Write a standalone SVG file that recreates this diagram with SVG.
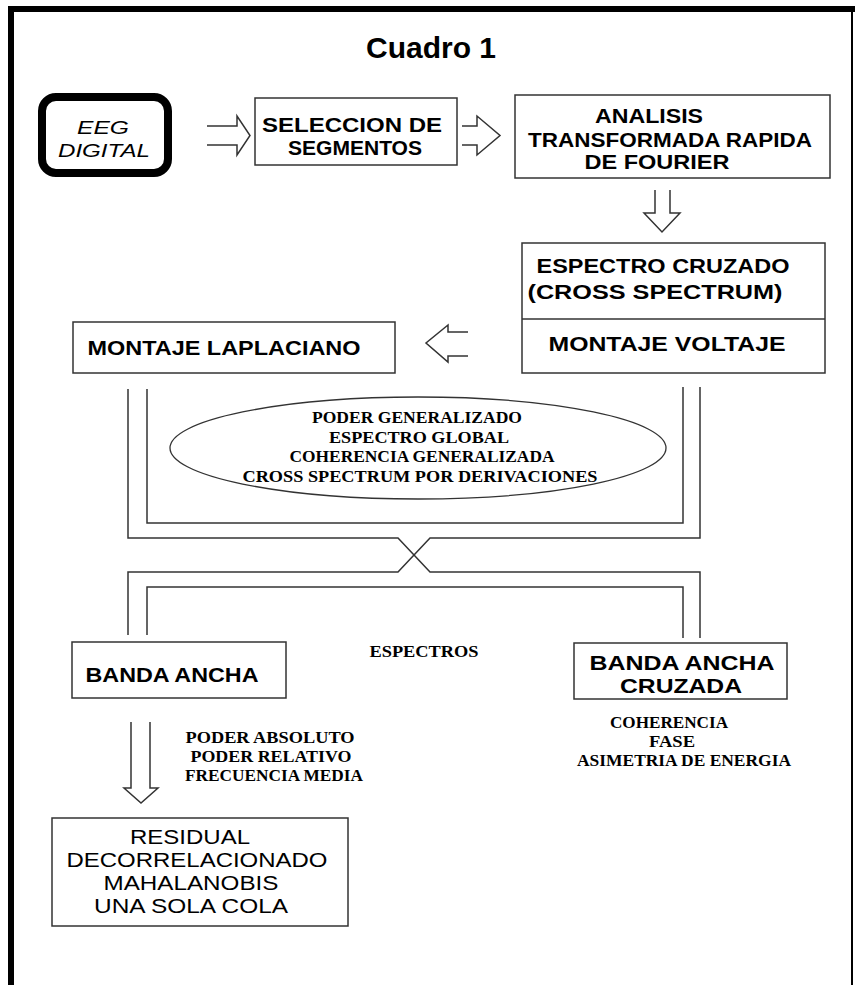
<svg xmlns="http://www.w3.org/2000/svg" width="855" height="985" viewBox="0 0 855 985">
<style>
.box{fill:#fff;stroke:#333;stroke-width:1.5}
.ln{fill:none;stroke:#333;stroke-width:1.5}
.sans{font-family:"Liberation Sans",Arial,sans-serif;font-weight:bold;font-size:20px;fill:#000;text-anchor:middle}
.reg{font-family:"Liberation Sans",Arial,sans-serif;font-size:20px;fill:#000;text-anchor:middle}
.ser{font-family:"Liberation Serif","Times New Roman",serif;font-weight:bold;font-size:17px;fill:#000;text-anchor:middle}
.it{font-family:"Liberation Sans",Arial,sans-serif;font-style:italic;font-size:19px;fill:#000;text-anchor:middle}
</style>
<rect width="855" height="985" fill="#fff"/>
<g id="frame">
<rect x="8" y="6" width="6" height="979" fill="#000"/>
<rect x="8" y="6" width="847" height="6" fill="#000"/>
<rect x="851" y="6" width="2" height="979" fill="#000"/>
</g>
<g id="title"><text x="431" y="58" style="font-family:'Liberation Sans',Arial,sans-serif;font-weight:bold;font-size:30px;text-anchor:middle">Cuadro 1</text></g>
<g id="eeg">
<rect x="42" y="97" width="126" height="76" rx="14" fill="#fff" stroke="#000" stroke-width="8"/>
<text class="it" x="103" y="134" textLength="52" lengthAdjust="spacingAndGlyphs">EEG</text>
<text class="it" x="104" y="157" textLength="92" lengthAdjust="spacingAndGlyphs">DIGITAL</text>
</g>
<g id="seleccion">
<rect class="box" x="255" y="98" width="202" height="67"/>
<text class="sans" x="352" y="132" textLength="180" lengthAdjust="spacingAndGlyphs">SELECCION DE</text>
<text class="sans" x="355" y="155" textLength="134" lengthAdjust="spacingAndGlyphs">SEGMENTOS</text>
</g>
<g id="analisis">
<rect class="box" x="515" y="95" width="315" height="83"/>
<text class="sans" x="649" y="123" textLength="108" lengthAdjust="spacingAndGlyphs">ANALISIS</text>
<text class="sans" x="670" y="147" textLength="284" lengthAdjust="spacingAndGlyphs">TRANSFORMADA RAPIDA</text>
<text class="sans" x="657" y="169" textLength="145" lengthAdjust="spacingAndGlyphs">DE FOURIER</text>
</g>
<g id="espectro">
<rect class="box" x="522" y="243" width="303" height="130"/>
<line class="ln" x1="522" y1="319" x2="825" y2="319"/>
<text class="sans" x="663" y="273" textLength="253" lengthAdjust="spacingAndGlyphs">ESPECTRO CRUZADO</text>
<text class="sans" x="655" y="299" textLength="255" lengthAdjust="spacingAndGlyphs">(CROSS SPECTRUM)</text>
<text class="sans" x="667" y="351" textLength="237" lengthAdjust="spacingAndGlyphs">MONTAJE VOLTAJE</text>
</g>
<g id="laplaciano">
<rect class="box" x="73" y="322" width="322" height="51"/>
<text class="sans" x="224" y="355" textLength="273" lengthAdjust="spacingAndGlyphs">MONTAJE LAPLACIANO</text>
</g>
<g id="medidas">
<ellipse cx="418" cy="448" rx="248" ry="51" fill="#fff" stroke="#333" stroke-width="1.3"/>
<text class="ser" x="417" y="423" textLength="210" lengthAdjust="spacingAndGlyphs">PODER GENERALIZADO</text>
<text class="ser" x="419" y="443" textLength="180" lengthAdjust="spacingAndGlyphs">ESPECTRO GLOBAL</text>
<text class="ser" x="422" y="462" textLength="265" lengthAdjust="spacingAndGlyphs">COHERENCIA GENERALIZADA</text>
<text class="ser" x="420" y="482" textLength="355" lengthAdjust="spacingAndGlyphs">CROSS SPECTRUM POR DERIVACIONES</text>
</g>
<g id="espectros"><text class="ser" x="424" y="657" textLength="109" lengthAdjust="spacingAndGlyphs">ESPECTROS</text></g>
<g id="banda-ancha">
<rect class="box" x="72" y="642" width="214" height="56"/>
<text class="sans" x="172" y="682" textLength="173" lengthAdjust="spacingAndGlyphs">BANDA ANCHA</text>
</g>
<g id="banda-cruzada">
<rect class="box" x="574" y="643" width="213" height="56"/>
<text class="sans" x="682" y="670" textLength="185" lengthAdjust="spacingAndGlyphs">BANDA ANCHA</text>
<text class="sans" x="681" y="693" textLength="122" lengthAdjust="spacingAndGlyphs">CRUZADA</text>
</g>
<g id="medidas-banda">
<text class="ser" x="270" y="743" textLength="169" lengthAdjust="spacingAndGlyphs">PODER ABSOLUTO</text>
<text class="ser" x="271" y="762" textLength="161" lengthAdjust="spacingAndGlyphs">PODER RELATIVO</text>
<text class="ser" x="274" y="781" textLength="178" lengthAdjust="spacingAndGlyphs">FRECUENCIA MEDIA</text>
</g>
<g id="medidas-cruzada">
<text class="ser" x="669" y="728" textLength="118" lengthAdjust="spacingAndGlyphs">COHERENCIA</text>
<text class="ser" x="672" y="747" textLength="46" lengthAdjust="spacingAndGlyphs">FASE</text>
<text class="ser" x="684" y="766" textLength="214" lengthAdjust="spacingAndGlyphs">ASIMETRIA DE ENERGIA</text>
</g>
<g id="residual">
<rect class="box" x="52" y="818" width="296" height="108"/>
<text class="reg" x="190" y="844" textLength="120" lengthAdjust="spacingAndGlyphs">RESIDUAL</text>
<text class="reg" x="197" y="867" textLength="261" lengthAdjust="spacingAndGlyphs">DECORRELACIONADO</text>
<text class="reg" x="191" y="890" textLength="175" lengthAdjust="spacingAndGlyphs">MAHALANOBIS</text>
<text class="reg" x="191" y="913" textLength="194" lengthAdjust="spacingAndGlyphs">UNA SOLA COLA</text>
</g>
<g id="connectors" class="ln">
<path d="M207,126 H237 V116 L250,135.5 L237,155 V145 H207"/>
<path d="M462,126 H477 V116 L500,135.5 L477,155 V145 H462"/>
<path d="M655,190 V213 H644 L662,232 L680,213 H670 V190"/>
<path d="M468,332 H448 V325 L426,343 L448,362 V356 H468"/>
<path d="M128,389 V538 H398 L430,572 H700 V638"/>
<path d="M700,387 V538 H430 L398,572 H128 V635"/>
<path d="M147,389 V523 H683 V387"/>
<path d="M147,635 V587 H683 V638"/>
<path d="M131,722 V788 H124 L141,803 L158,788 H150 V722"/>
</g>
</svg>
